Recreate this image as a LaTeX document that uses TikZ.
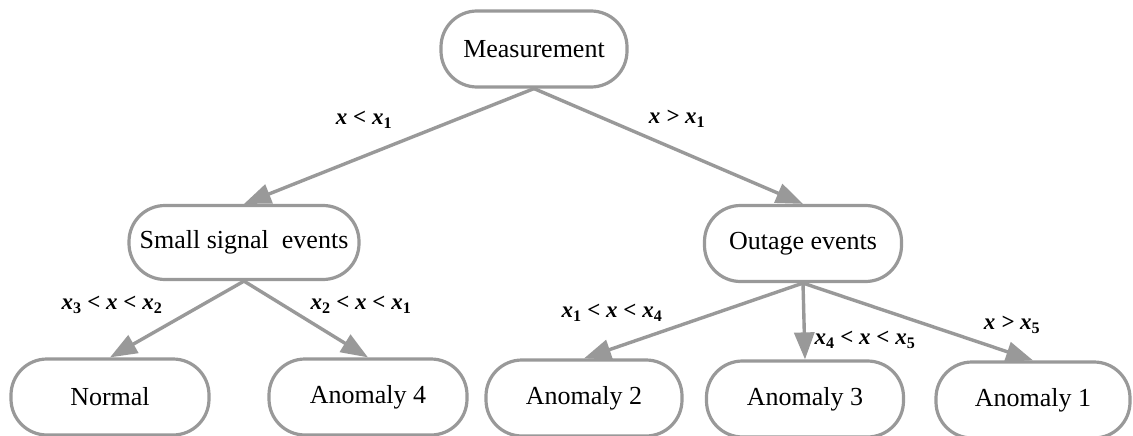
\documentclass[tikz,border=0pt]{standalone}
\usepackage{fontspec}
\setmainfont{Liberation Serif}
\usetikzlibrary{arrows.meta}
\definecolor{edgegray}{HTML}{999999}
\newcommand{\sbs}[1]{\textsubscript{\upshape #1}}
\begin{document}
\begin{tikzpicture}[x=1pt,y=-1pt,
  box/.style={draw=edgegray, line width=3.2pt, rounded corners=36pt, fill=white,
    minimum height=76pt, inner sep=0pt, font=\fontsize{26}{30}\selectfont},
  link/.style={draw=edgegray, line width=3.4pt, -{Triangle[length=27pt,width=20pt]}},
  cond/.style={font=\fontsize{23}{27}\selectfont\bfseries\itshape, inner sep=0pt}]
\clip (0,0) rectangle (1133,436);
\fill[white] (0,0) rectangle (1133,436);

% tree nodes
\node[box, minimum width=186pt] (meas) at (534,49) {Measurement};
\node[box, minimum width=230pt, minimum height=74pt] (small) at (244,242.5) {Small signal~ events};
\node[box, minimum width=197pt] (outage) at (803,243.5) {Outage events};
\node[box, minimum width=198pt] (normal) at (110,397) {Normal};
\node[box, minimum width=198pt] (an4) at (368,397) {Anomaly 4};
\node[box, minimum width=196pt] (an2) at (584,398) {Anomaly 2};
\node[box, minimum width=197pt] (an3) at (805,399) {Anomaly 3};
\node[box, minimum width=194pt] (an1) at (1033,400) {Anomaly 1};

% branches
\draw[link] (meas.south) -- (small.north);
\draw[link] (meas.south) -- (outage.north);
\draw[link] (small.south) -- (normal.north);
\draw[link] (small.south) -- (an4.north);
\draw[link] (outage.south) -- (an2.north);
\draw[link] (outage.south) -- (an3.north);
\draw[link] (outage.south) -- (an1.north);

% branch conditions
\node[cond] (c1) at (364,120) {x < x\sbs{1}};
\node[cond] (c2) at (677,119) {x > x\sbs{1}};
\node[cond] (c3) at (112,305) {x\sbs{3} < x < x\sbs{2}};
\node[cond] (c4) at (361,305) {x\sbs{2} < x < x\sbs{1}};
\node[cond] (c5) at (612,313) {x\sbs{1} < x < x\sbs{4}};
\node[cond] (c6) at (865,340) {x\sbs{4} < x < x\sbs{5}};
\node[cond] (c7) at (1012,325) {x > x\sbs{5}};
\end{tikzpicture}
\end{document}
